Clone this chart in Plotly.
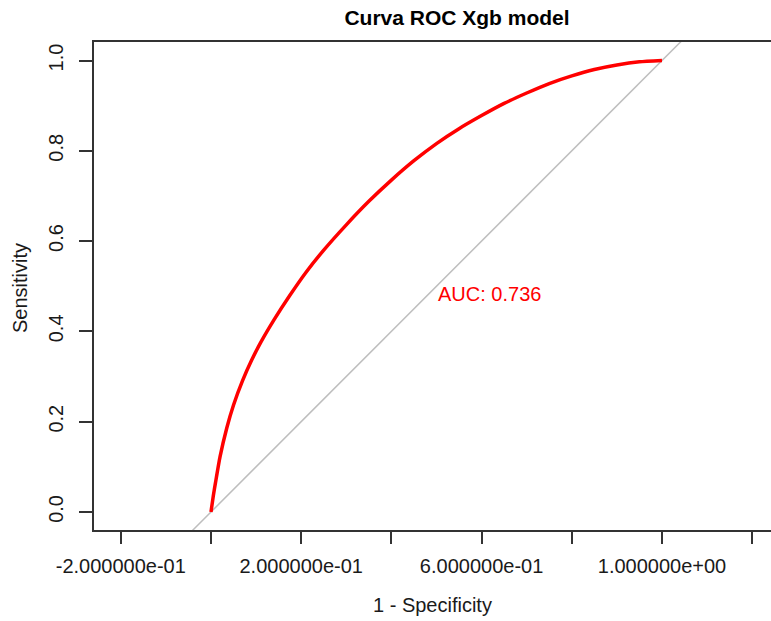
import plotly.graph_objects as go

# ROC curve of the XGBoost model: 1 - specificity vs sensitivity
fpr = [0.0, 0.005, 0.01, 0.02, 0.035, 0.05, 0.07, 0.09, 0.11, 0.14,
       0.175, 0.21, 0.25, 0.30, 0.35, 0.40, 0.45, 0.50, 0.55, 0.60,
       0.65, 0.70, 0.75, 0.80, 0.85, 0.90, 0.95, 1.0]
tpr = [0.0, 0.035, 0.065, 0.122, 0.186, 0.237, 0.291, 0.336, 0.375, 0.426,
       0.480, 0.530, 0.580, 0.636, 0.688, 0.735, 0.778, 0.816, 0.849, 0.878,
       0.905, 0.928, 0.949, 0.966, 0.980, 0.990, 0.997, 1.0]
auc_value = 0.736

# chance line y = x (extended past the plot area, clipped by the axes)
diag_x = [-1.0, 2.0]
diag_y = [-1.0, 2.0]

x_ticks = [-0.2, 0.0, 0.2, 0.4, 0.6, 0.8, 1.0, 1.2]
x_ticktext = ["-2.000000e-01", "", "2.000000e-01", "", "6.000000e-01", "",
              "1.000000e+00", ""]
y_ticks = [0.0, 0.2, 0.4, 0.6, 0.8, 1.0]
y_ticktext = ["0.0", "0.2", "0.4", "0.6", "0.8", "1.0"]

FONT = "Liberation Sans, Arial, Helvetica, sans-serif"
AXIS_COLOR = "#333333"
TEXT_COLOR = "#1a1a1a"

fig = go.Figure()
fig.add_trace(go.Scatter(x=diag_x, y=diag_y, mode="lines",
                         line=dict(color="#bebebe", width=1.5),
                         hoverinfo="skip", showlegend=False))
fig.add_trace(go.Scatter(x=fpr, y=tpr, mode="lines",
                         line=dict(color="#ff0000", width=3.5, shape="spline",
                                   smoothing=0.5),
                         showlegend=False))

fig.update_layout(
    width=771, height=621,
    margin=dict(l=94, r=0, t=42, b=91),
    paper_bgcolor="white", plot_bgcolor="white",
    font=dict(family=FONT, size=20, color=TEXT_COLOR),
    title=dict(text="<b>Curva ROC Xgb model</b>", x=457 / 771,
               xref="container", xanchor="center",
               y=1 - 18 / 621, yref="container", yanchor="middle",
               font=dict(size=21, color="#000000")),
    xaxis=dict(range=[-0.2594, 1.2417], tickmode="array", tickvals=x_ticks,
               ticktext=x_ticktext, ticks="outside", ticklen=12, tickwidth=1.5,
               tickcolor=AXIS_COLOR, showline=True, linecolor=AXIS_COLOR,
               linewidth=1.5, mirror=True, showgrid=False, zeroline=False,
               ticklabelstandoff=5, tickfont=dict(size=20)),
    yaxis=dict(range=[-0.04, 1.041], tickmode="array", tickvals=y_ticks,
               ticktext=y_ticktext, ticks="outside", ticklen=13, tickwidth=1.5,
               tickcolor=AXIS_COLOR, showline=True, linecolor=AXIS_COLOR,
               linewidth=1.5, mirror=False, showgrid=False, zeroline=False,
               tickangle=-90, ticklabelstandoff=8, tickfont=dict(size=20)),
    annotations=[
        dict(text="1 - Specificity", xref="paper", yref="paper", x=0.5,
             y=(530 - 605) / 488, xanchor="center", yanchor="middle",
             showarrow=False, font=dict(size=20)),
        dict(text="Sensitivity", xref="paper", yref="paper",
             x=(20 - 94) / 677, y=(530 - 288) / 488, textangle=-90,
             xanchor="center", yanchor="middle", showarrow=False,
             font=dict(size=20)),
        dict(text=f"AUC: {auc_value:.3f}", xref="x", yref="y", x=0.498,
             y=0.483, xanchor="left", yanchor="middle", showarrow=False,
             font=dict(size=20, color="#ff0000")),
    ],
)

fig.write_html("out.html")
